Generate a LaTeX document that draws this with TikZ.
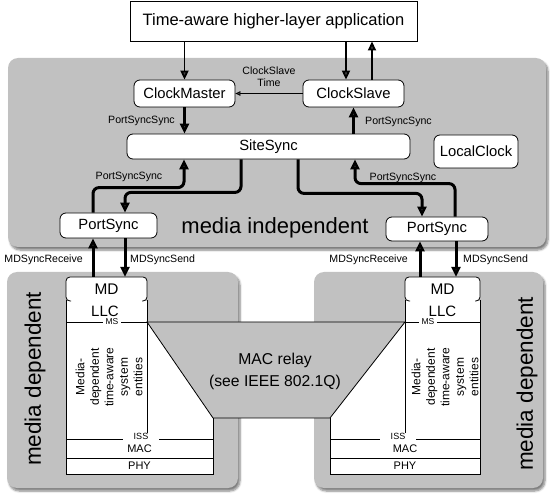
\documentclass[tikz,border=0pt]{standalone}
\usepackage{fontspec}
\setmainfont{Liberation Sans}
\usetikzlibrary{arrows.meta,shadows.blur,calc}
\definecolor{panel}{RGB}{193,193,193}
\newcommand{\fsz}[2]{\fontsize{#1}{#2}\selectfont}
\begin{document}
\begin{tikzpicture}[x=1pt,y=-1pt,
 panelbox/.style={fill=panel, rounded corners=10pt, blur shadow={shadow xshift=2pt,shadow yshift=-3pt,shadow blur steps=6,shadow opacity=50}},
 blk/.style={draw, fill=white, rounded corners=6pt, line width=0.8pt, font=\fsz{14.8}{17}, inner sep=0pt},
 lab/.style={font=\fsz{10.6}{12}, inner sep=0pt},
 arr/.style={line width=1.8pt, -{Triangle[length=9pt,width=8pt]}},
 thk/.style={line width=3pt, rounded corners=6pt, -{Triangle[length=10pt,width=9pt]}},
 thinarr/.style={line width=0.7pt, -{Triangle[length=5pt,width=4.5pt]}},
 stk/.style={draw, line width=0.8pt},
]
\useasboundingbox (0,0) rectangle (550,500);

% panels
\path[panelbox] (8,58) rectangle (546,247);
\path[panelbox] (7,272) rectangle (238,488);
\path[panelbox] (314,272) rectangle (543,488);

% top application
\node[draw, fill=white, line width=0.9pt, minimum width=287pt, minimum height=40pt, inner sep=0pt, font=\fsz{16.5}{19}] (app) at (273.5,21) {Time-aware higher-layer application};

% media independent nodes
\node[blk, minimum width=101pt, minimum height=27pt] (cm) at (184.5,93.5) {ClockMaster};
\node[blk, minimum width=101pt, minimum height=27pt] (cs) at (353.5,93.5) {ClockSlave};
\node[blk, minimum width=283pt, minimum height=25pt] (ss) at (268.5,146.5) {SiteSync};
\node[blk, minimum width=84pt, minimum height=33pt] (lc) at (476,151.5) {LocalClock};
\node[blk, minimum width=97pt, minimum height=25pt] (psl) at (108.5,225.5) {PortSync};
\node[blk, minimum width=102pt, minimum height=24pt] (psr) at (437,229) {PortSync};
\node[font=\fsz{22}{26}] (mi) at (275,228) {media independent};

% arrows upper
\coordinate (csin) at ([xshift=-7.5pt]cs.north);
\coordinate (csout) at ([xshift=18.5pt]cs.north);
\draw[arr] (app.south -| cm.north) -- (cm.north);
\draw[arr] (csin |- app.south) -- (csin);
\draw[arr] (csout) -- (csout |- app.south);
\draw[thinarr] (cs.west) -- (cm.east);
\node[lab, align=center] (cst) at (269,77) {ClockSlave\\Time};

\draw[thk] (cm.south) -- (cm.south |- ss.north);
\node[lab, anchor=east] (l1) at (175,121) {PortSyncSync};
\draw[thk] (cs.south |- ss.north) -- (cs.south);
\node[lab, anchor=west] (l2) at (365,122) {PortSyncSync};

\coordinate (psl1) at ([xshift=-15.5pt]psl.north);
\coordinate (psl2) at ([xshift=16.5pt]psl.north);
\coordinate (ss1) at ([xshift=-84.5pt]ss.south);
\coordinate (ss2) at ([xshift=-27.5pt]ss.south);
\coordinate (ss3) at ([xshift=29.5pt]ss.south);
\coordinate (ss4) at ([xshift=86.5pt]ss.south);
\coordinate (psr1) at ([xshift=-15pt]psr.north);
\coordinate (psr2) at ([xshift=18pt]psr.north);

\draw[thk] (psl1) -- ++(0,-25) -| (ss1);
\draw[thk] (ss2) -- ++(0,33) -| (psl2);
\draw[thk] (ss3) -- ++(0,34) -| (psr1);
\draw[thk] (psr2) -- ++(0,-33) -| (ss4);
\node[lab] (l3) at (129,177) {PortSyncSync};
\node[lab] (l4) at (403,178) {PortSyncSync};

% stacks
\fill[white] (66,301) -- (147,301) -- (147,322) -- (213,418) -- (213,474) -- (66,474) -- cycle;
\draw[stk] (66,300) -- (66,474) -- (213,474) -- (213,418);
\draw[stk] (147,300) -- (147,439);
\draw[stk] (66,322) -- (147,322);
\draw[stk] (66,439) -- (213,439);
\draw[stk] (66,458) -- (213,458);

\fill[white] (405,301) -- (480,301) -- (480,474) -- (330,474) -- (330,418) -- (405,322) -- cycle;
\draw[stk] (480,300) -- (480,474) -- (330,474) -- (330,418);
\draw[stk] (405,300) -- (405,439);
\draw[stk] (405,322) -- (480,322);
\draw[stk] (330,439) -- (480,439);
\draw[stk] (330,458) -- (480,458);

% MAC relay
\draw[stk, fill=panel] (147,322) -- (405,322) -- (330,418) -- (213,418) -- cycle;
\node[align=center, font=\fsz{15.7}{22}] (relay) at (275,371) {MAC relay\\(see IEEE 802.1Q)};

% MD outlines
\draw[stk, fill=white, rounded corners=4pt] (71,301) -- (66,301) -- (66,277) -- (147,277) -- (147,301) -- (142,301);
\draw[stk, fill=white, rounded corners=4pt] (410,301) -- (405,301) -- (405,277) -- (480,277) -- (480,301) -- (475,301);
\node[minimum width=81pt, minimum height=25pt, inner sep=0pt, font=\fsz{15.4}{18}] (mdl) at (106.5,289.5) {MD};
\node[minimum width=75pt, minimum height=25pt, inner sep=0pt, font=\fsz{15.4}{18}] (mdr) at (442.5,289.5) {MD};

% stack labels
\node[font=\fsz{15}{18}, inner sep=0pt] (llcl) at (105,311) {LLC};
\node[font=\fsz{15}{18}, inner sep=0pt] (llcr) at (442.5,311) {LLC};
\node[font=\fsz{8.5}{9}, fill=white, inner xsep=3pt, inner ysep=0.5pt] (msl) at (112,322) {MS};
\node[font=\fsz{8.5}{9}, fill=white, inner xsep=3pt, inner ysep=0.5pt] (msr) at (428,322) {MS};
\node[font=\fsz{9}{10}, fill=white, inner xsep=11pt, inner ysep=0pt] (issl) at (141,436.5) {ISS};
\node[font=\fsz{9}{10}, fill=white, inner xsep=11pt, inner ysep=0pt] (issr) at (398,436.5) {ISS};
\node[font=\fsz{11}{12}, inner sep=0pt] (macl) at (139.5,448.5) {MAC};
\node[font=\fsz{11}{12}, inner sep=0pt] (macr) at (405,448.5) {MAC};
\node[font=\fsz{11}{12}, inner sep=0pt] (phyl) at (139.5,466) {PHY};
\node[font=\fsz{11}{12}, inner sep=0pt] (phyr) at (405,466) {PHY};
\node[rotate=90, align=center, font=\fsz{12}{14.5}] (entl) at (109,377) {Media-\\dependent\\time-aware\\system\\entities};
\node[rotate=90, align=center, font=\fsz{12}{14.5}] (entr) at (445,377) {Media-\\dependent\\time-aware\\system\\entities};
\node[rotate=90, font=\fsz{22.5}{26}] (mdtl) at (35,379) {media dependent};
\node[rotate=90, font=\fsz{22.5}{26}] (mdtr) at (527,384) {media dependent};

% MDSync arrows
\coordinate (psl3) at ([xshift=-15.5pt]psl.south);
\coordinate (psl4) at ([xshift=16.5pt]psl.south);
\coordinate (psr3) at ([xshift=-17pt]psr.south);
\coordinate (psr4) at ([xshift=19pt]psr.south);
\draw[thk] (psl3 |- mdl.north) -- (psl3);
\draw[thk] (psl4) -- (psl4 |- mdl.north);
\draw[thk] (psr3 |- mdr.north) -- (psr3);
\draw[thk] (psr4) -- (psr4 |- mdr.north);
\node[lab, anchor=east] (r1) at (83,260) {MDSyncReceive};
\node[lab, anchor=west] (s1) at (130,260) {MDSyncSend};
\node[lab, anchor=east] (r2) at (408,260) {MDSyncReceive};
\node[lab, anchor=west] (s2) at (463,260) {MDSyncSend};
\end{tikzpicture}
\end{document}
